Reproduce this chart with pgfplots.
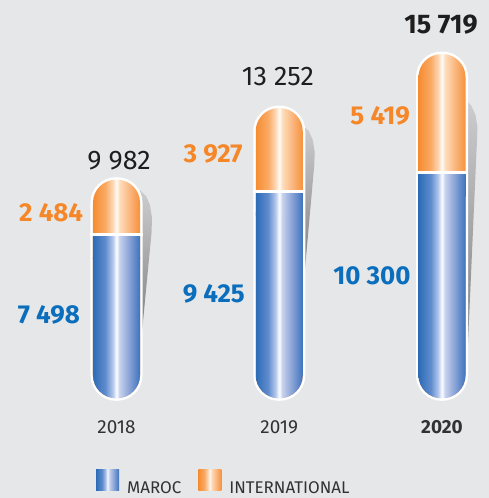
\documentclass[border=0pt]{standalone}
\usepackage{pgfplots}
\pgfplotsset{compat=1.18}
\usepackage{fontspec}
\setmainfont{Fira Sans}
\definecolor{bg}{RGB}{230,231,233}
\definecolor{tblack}{RGB}{30,30,30}
\definecolor{tgray}{RGB}{50,50,52}
\definecolor{tblue}{RGB}{10,110,188}
\definecolor{torange}{RGB}{245,135,40}
\definecolor{bA}{RGB}{45,108,183}
\definecolor{bB}{RGB}{95,140,205}
\definecolor{bC}{RGB}{180,200,235}
\definecolor{bD}{RGB}{245,248,255}
\definecolor{bE}{RGB}{200,210,238}
\definecolor{bF}{RGB}{140,165,215}
\definecolor{bG}{RGB}{60,115,190}
\definecolor{oA}{RGB}{246,140,50}
\definecolor{oB}{RGB}{249,170,100}
\definecolor{oC}{RGB}{253,215,180}
\definecolor{oD}{RGB}{255,248,240}
\definecolor{oE}{RGB}{254,222,190}
\definecolor{oF}{RGB}{251,185,130}
\definecolor{oG}{RGB}{246,145,60}
\definecolor{shT}{RGB}{205,205,207}
\definecolor{shB}{RGB}{125,125,127}
\pgfdeclarehorizontalshading{blueshade}{100bp}{color(0bp)=(bA); color(25bp)=(bA); color(38bp)=(bB); color(46bp)=(bC); color(49.5bp)=(bD); color(50.5bp)=(bD); color(53bp)=(bE); color(63bp)=(bF); color(75bp)=(bG); color(100bp)=(bG)}
\pgfdeclarehorizontalshading{orangeshade}{100bp}{color(0bp)=(oA); color(25bp)=(oA); color(38bp)=(oB); color(46bp)=(oC); color(49.5bp)=(oD); color(50.5bp)=(oD); color(53bp)=(oE); color(63bp)=(oF); color(75bp)=(oG); color(100bp)=(oG)}
\pgfplotsset{
  capsule/.style={forget plot, ybar, bar shift=0pt, bar width=0.2888, rounded corners=23bp, draw=none},
}
\begin{document}
\begin{tikzpicture}
\fill[bg] (0,0) rectangle (489bp,498bp);
\useasboundingbox (0,0) rectangle (489bp,498bp);
\begin{axis}[
  scale only axis, width=488.25bp, height=361.35bp,
  at={(2.575bp,99.7bp)}, anchor=south west,
  xmin=-0.7, xmax=2.3, ymin=0, ymax=16500,
  clip=false,
  axis line style={draw=none}, major tick style={draw=none},
  ytick=\empty, xtick={0,1,2}, xticklabels={2018,2019,\textbf{2020}},
  xticklabel style={font=\fontsize{19}{22}\selectfont, text=tgray, inner sep=0pt, anchor=north, yshift=-21.7bp},
  legend columns=2,
  legend style={draw=none, fill=none, inner sep=0pt, at={(0.1913,-0.2316)}, anchor=west,
    font=\fontsize{17}{20}\selectfont, text=tgray, nodes={inner sep=0pt},
    /tikz/every odd column/.append style={column sep=8bp},
    /tikz/every even column/.append style={column sep=17bp}},
]
% shadows
\addplot[forget plot, draw=none, top color=shT, bottom color=shB] coordinates {(0.1444,9511) (0.1813,9237) (0.2058,8826) (0.2181,8233) (0.2151,7548) (0.1536,2801) (0.1444,2801)} --cycle;
\addplot[forget plot, draw=none, top color=shT, bottom color=shB] coordinates {(1.1444,12479) (1.1813,12205) (1.2058,11795) (1.2181,11247) (1.2151,10653) (1.1536,5539) (1.1444,5539)} --cycle;
\addplot[forget plot, draw=none, top color=shT, bottom color=shB] coordinates {(2.1444,13621) (2.1813,13347) (2.2058,12936) (2.2181,12388) (2.2151,11795) (2.1536,1521) (2.1444,1521)} --cycle;
% white outline of the capsules (total)
\addplot[capsule, fill=white, draw=white, line width=5bp] coordinates {(0,9982) (1,13252) (2,15719)};
% international (orange) capsules: total height
\addplot[capsule, shading=orangeshade] coordinates {(0,9982)};
\addplot[capsule, shading=orangeshade] coordinates {(1,13252)};
\addplot[capsule, shading=orangeshade] coordinates {(2,15719)};
% maroc (blue) capsules
\addplot[capsule, shading=blueshade] coordinates {(0,7498)};
\addplot[capsule, shading=blueshade] coordinates {(1,9425)};
\addplot[capsule, shading=blueshade] coordinates {(2,10300)};
% square top of blue part
\addplot[forget plot, draw=none, shading=blueshade] coordinates {(-0.1444,6398) (0.1444,6398) (0.1444,7498) (-0.1444,7498)} --cycle;
\addplot[forget plot, draw=none, shading=blueshade] coordinates {(0.8556,8325) (1.1444,8325) (1.1444,9425) (0.8556,9425)} --cycle;
\addplot[forget plot, draw=none, shading=blueshade] coordinates {(1.8556,9200) (2.1444,9200) (2.1444,10300) (1.8556,10300)} --cycle;
% separators
\addplot[forget plot, white, line width=3bp, unbounded coords=jump] coordinates {(-0.16,7498) (0.16,7498) (nan,nan) (0.84,9425) (1.16,9425) (nan,nan) (1.84,10300) (2.16,10300)};
% legend
\addlegendimage{legend image code/.code={\path[draw=none, shading=blueshade] (0bp,-3bp) rectangle (23bp,18.7bp);}}
\addlegendentry{MAROC}
\addlegendimage{legend image code/.code={\path[draw=none, shading=orangeshade] (0bp,-3bp) rectangle (23bp,18.7bp);}}
\addlegendentry{INTERNATIONAL}
% labels
\node[inner sep=0pt, anchor=center, font=\fontsize{27}{30}\selectfont, text=tblack] at (axis cs:0.0154,10836) {9 982};
\node[inner sep=0pt, anchor=center, font=\fontsize{27}{30}\selectfont, text=tblack] at (axis cs:0.992,14694) {13 252};
\node[inner sep=0pt, anchor=center, font=\fontsize{27}{30}\selectfont\bfseries, text=tblack] at (axis cs:1.994,17046) {15 719};
\node[inner sep=0pt, anchor=east, font=\fontsize{26}{30}\selectfont\bfseries, text=torange] at (axis cs:-0.204,8470) {2 484};
\node[inner sep=0pt, anchor=east, font=\fontsize{26}{30}\selectfont\bfseries, text=tblue] at (axis cs:-0.2243,3826) {7 498};
\node[inner sep=0pt, anchor=east, font=\fontsize{26}{30}\selectfont\bfseries, text=torange] at (axis cs:0.7754,11155) {3 927};
\node[inner sep=0pt, anchor=east, font=\fontsize{26}{30}\selectfont\bfseries, text=tblue] at (axis cs:0.7896,4763) {9 425};
\node[inner sep=0pt, anchor=east, font=\fontsize{26}{30}\selectfont\bfseries, text=torange] at (axis cs:1.8034,12890) {5 419};
\node[inner sep=0pt, anchor=east, font=\fontsize{26}{30}\selectfont\bfseries, text=tblue] at (axis cs:1.8077,5584) {10 300};
\end{axis}
\end{tikzpicture}
\end{document}
